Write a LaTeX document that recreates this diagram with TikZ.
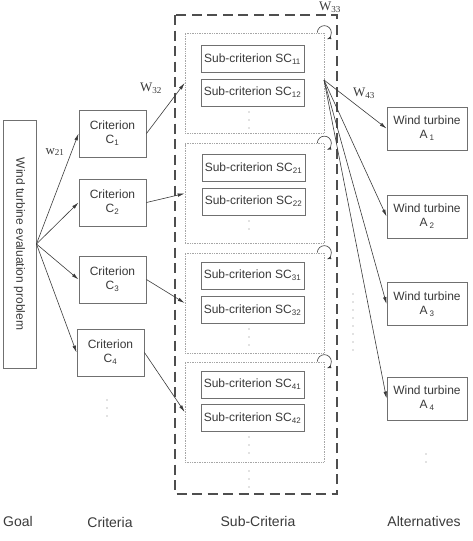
\documentclass[tikz,border=0pt]{standalone}
\usepackage{fontspec}
\setmainfont{Liberation Sans}
\newfontfamily\wfont{Liberation Serif}
\usetikzlibrary{arrows.meta}
\definecolor{boxgray}{HTML}{707070}
\definecolor{inkgray}{HTML}{3A3A3A}
\tikzset{
  box/.style={draw=boxgray, line width=0.9pt, fill=white, text=inkgray, align=center,
    inner sep=0pt, font=\fontsize{12}{14}\selectfont},
  critbox/.style={box, minimum width=67pt, minimum height=47pt},
  subbox/.style={box, minimum width=103pt, minimum height=27pt},
  altbox/.style={box, minimum width=80pt, minimum height=43pt},
  groupbox/.style={draw=gray!70, densely dotted, line width=0.7pt, minimum width=139pt,
    minimum height=100pt, inner sep=0pt},
  link/.style={draw=inkgray, line width=0.6pt, -{Latex[length=7pt,width=3.5pt]}},
  selfloop/.style={draw=inkgray, line width=0.6pt, -{Latex[length=4.5pt,width=3pt]}},
  weight/.style={font=\wfont\fontsize{13}{15}\selectfont, text=inkgray},
  level/.style={font=\fontsize{14}{16}\selectfont, text=inkgray},
  dotcol/.style={draw=gray, line width=1.1pt, line cap=round, dash pattern=on 0pt off 8pt},
}
\begin{document}
\begin{tikzpicture}[x=1pt, y=-1pt]
  \useasboundingbox (0,0) rectangle (473,541);

  % Goal
  \node[box, minimum width=248pt, minimum height=33pt, rotate=-90] (goal) at (19.5,244)
    {Wind turbine evaluation problem};

  % Criteria
  \node[critbox] (c1) at (112.5,133.5) {Criterion\\C\textsubscript{1}};
  \node[critbox] (c2) at (112.5,202.5) {Criterion\\C\textsubscript{2}};
  \node[critbox] (c3) at (112.5,279.5) {Criterion\\C\textsubscript{3}};
  \node[critbox] (c4) at (110.5,352.5) {Criterion\\C\textsubscript{4}};
  \draw[dotcol] (107,400) -- (107,416);

  % Sub-criteria cluster
  \draw[draw=inkgray!90, line width=1.3pt, dash pattern=on 10pt off 5.5pt] (175,15) rectangle (337,494);
  \node[groupbox] (grp1) at (254.5,83) {};
  \node[groupbox] (grp2) at (254.5,193.5) {};
  \node[groupbox] (grp3) at (254.5,303) {};
  \node[groupbox] (grp4) at (254.5,412) {};

  \node[subbox] (sc11) at (252.5,59) {Sub-criterion SC\textsubscript{11}};
  \node[subbox] (sc12) at (252.5,92.5) {Sub-criterion SC\textsubscript{12}};
  \draw[dotcol] (249,112) -- (249,128);

  \node[subbox] (sc21) at (253.5,168) {Sub-criterion SC\textsubscript{21}};
  \node[subbox] (sc22) at (253.5,201.5) {Sub-criterion SC\textsubscript{22}};
  \draw[dotcol] (249,221) -- (249,237);

  \node[subbox] (sc31) at (252.5,275.5) {Sub-criterion SC\textsubscript{31}};
  \node[subbox] (sc32) at (252.5,310) {Sub-criterion SC\textsubscript{32}};
  \draw[dotcol] (249,329) -- (249,345);

  \node[subbox] (sc41) at (252.5,384.5) {Sub-criterion SC\textsubscript{41}};
  \node[subbox] (sc42) at (252.5,418) {Sub-criterion SC\textsubscript{42}};
  \draw[dotcol] (249,437) -- (249,453);
  \draw[dotcol] (249,471) -- (249,487);

  % Inner dependence loops
  \draw[selfloop] ([xshift=-7pt]grp1.north east) arc[start angle=-180, end angle=70, radius=7];
  \draw[selfloop] ([xshift=-7pt]grp2.north east) arc[start angle=-180, end angle=70, radius=7];
  \draw[selfloop] ([xshift=-7pt]grp3.north east) arc[start angle=-180, end angle=70, radius=7];
  \draw[selfloop] ([xshift=-7pt]grp4.north east) arc[start angle=-180, end angle=70, radius=7];

  % Alternatives
  \node[altbox] (a1) at (427,128.5) {Wind turbine\\A\,\textsubscript{1}};
  \node[altbox] (a2) at (427,216.5) {Wind turbine\\A\,\textsubscript{2}};
  \node[altbox] (a3) at (427,304) {Wind turbine\\A\,\textsubscript{3}};
  \node[altbox] (a4) at (427,398.5) {Wind turbine\\A\,\textsubscript{4}};
  \draw[dotcol] (426,454) -- (426,470);
  \draw[dotcol] (353,294) -- (353,354);

  % Goal to criteria
  \draw[link] (goal.north) -- (c1.west);
  \draw[link] (goal.north) -- (c2.west);
  \draw[link] (goal.north) -- (c3.west);
  \draw[link] (goal.north) -- (c4.west);

  % Criteria to sub-criteria
  \draw[link] (c1.east) -- (grp1.west);
  \draw[link] (c2.east) -- (grp2.west);
  \draw[link] (c3.east) -- (grp3.west);
  \draw[link] (c4.east) -- (grp4.west);

  % Sub-criteria to alternatives
  \coordinate (hub) at (324,80);
  \draw[link] (hub) -- (a1.west);
  \draw[link] (hub) -- (a2.west);
  \draw[link] (hub) -- (a3.west);
  \draw[link] (hub) -- (a4.west);

  % Weights
  \node[weight] (w21) at (55,152) {w\textsubscript{21}};
  \node[weight] (w32) at (151,88) {W\textsubscript{32}};
  \node[weight] (w43) at (364,93) {W\textsubscript{43}};
  \node[weight] (w33) at (330,7) {W\textsubscript{33}};

  % Levels
  \node[level] (lgoal) at (18,521) {Goal};
  \node[level] (lcrit) at (110,522) {Criteria};
  \node[level] (lsub) at (258,521) {Sub-Criteria};
  \node[level] (lalt) at (424,521) {Alternatives};
\end{tikzpicture}
\end{document}
